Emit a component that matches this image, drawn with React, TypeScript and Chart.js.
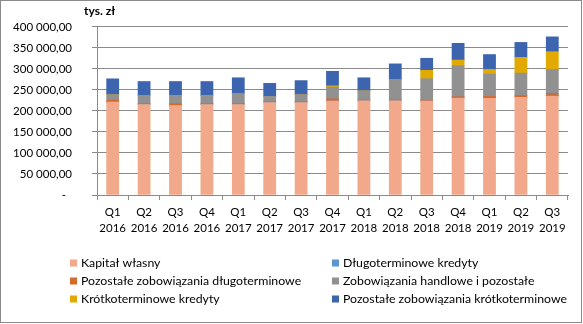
import React, { useEffect, useRef } from "react";
import { Chart, registerables } from "chart.js";

Chart.register(...registerables);

const categories: string[][] = [
  ["Q1", "2016"], ["Q2", "2016"], ["Q3", "2016"], ["Q4", "2016"],
  ["Q1", "2017"], ["Q2", "2017"], ["Q3", "2017"], ["Q4", "2017"],
  ["Q1", "2018"], ["Q2", "2018"], ["Q3", "2018"], ["Q4", "2018"],
  ["Q1", "2019"], ["Q2", "2019"], ["Q3", "2019"],
];

// values in tys. zł
const kapitalWlasny = [221300, 215200, 212500, 215000, 215000, 219800, 219800, 223500, 224200, 224200, 223500, 230200, 230200, 232400, 234600];
const dlugoterminoweKredyty = [0, 0, 0, 0, 0, 0, 0, 0, 0, 0, 0, 2500, 0, 0, 2900];
const pozostaleDlugoterminowe = [4400, 2400, 5100, 2600, 2600, 2200, 2200, 5200, 2200, 2200, 2300, 1300, 4400, 4400, 4400];
const zobowiazaniaHandlowe = [13000, 19200, 19200, 19200, 23700, 12600, 17000, 28100, 21500, 48100, 50900, 73700, 53100, 53200, 56900];
const krotkoterminoweKredyty = [0, 0, 0, 0, 0, 0, 0, 2900, 0, 0, 19900, 13300, 11100, 37600, 42100];
const pozostaleKrotkoterminowe = [37700, 33200, 33200, 33200, 37600, 31000, 33200, 34700, 31000, 37500, 28800, 39800, 35400, 35400, 35400];

const seriesNames = [
  "Kapitał własny",
  "Długoterminowe kredyty",
  "Pozostałe zobowiązania długoterminowe",
  "Zobowiązania handlowe i pozostałe",
  "Krótkoterminowe kredyty",
  "Pozostałe zobowiązania krótkoterminowe",
];
const seriesColors = ["#F2A88A", "#5B96D0", "#D7692B", "#919191", "#E2AA00", "#3D64AF"];

const yTicks = [0, 50000, 100000, 150000, 200000, 250000, 300000, 350000, 400000];

const FONT = "Lato, 'DejaVu Sans', sans-serif";
const FS = 11.5;
const LEGEND_FS = 12.3;

function fmt(v: number): string {
  if (v === 0) return "-  ";
  const s = Math.round(v).toString().replace(/\B(?=(\d{3})+(?!\d))/g, " ");
  return s + ",00";
}

const decorPlugin = {
  id: "decor",
  afterDraw(chart: any) {
    const ctx = chart.ctx as CanvasRenderingContext2D;
    ctx.save();
    // unit label
    ctx.fillStyle = "#000";
    ctx.font = `bold 12px ${FONT}`;
    ctx.textBaseline = "middle";
    ctx.textAlign = "left";
    ctx.fillText("tys. zł", 84, 11);
    // legend, 2 columns x 3 rows
    ctx.font = `${LEGEND_FS}px ${FONT}`;
    const cols = [70, 332];
    const rows = [263, 281, 299];
    chart.data.datasets.forEach((ds: any, i: number) => {
      const cx = cols[i % 2];
      const cy = rows[Math.floor(i / 2)];
      ctx.fillStyle = ds.backgroundColor;
      ctx.fillRect(cx, cy - 3.5, 7, 7);
      ctx.fillStyle = "#000";
      ctx.fillText(ds.label, cx + 11, cy);
    });
    // outer border
    ctx.strokeStyle = "#8a8a8a";
    ctx.lineWidth = 1;
    ctx.strokeRect(0.5, 0.5, 581, 322);
    ctx.restore();
  },
};

export default function App() {
  const ref = useRef<HTMLCanvasElement | null>(null);

  useEffect(() => {
    document.body.style.margin = "0";
    const canvas = ref.current;
    if (!canvas) return;
    const series = [
      kapitalWlasny,
      dlugoterminoweKredyty,
      pozostaleDlugoterminowe,
      zobowiazaniaHandlowe,
      krotkoterminoweKredyty,
      pozostaleKrotkoterminowe,
    ];
    const chart = new Chart(canvas, {
      type: "bar",
      data: {
        labels: categories,
        datasets: series.map((d, i) => ({
          label: seriesNames[i],
          data: d,
          backgroundColor: seriesColors[i],
          borderWidth: 0,
          inflateAmount: 0.35,
          barPercentage: 0.385,
          categoryPercentage: 1,
        })),
      },
      options: {
        responsive: false,
        animation: false,
        devicePixelRatio: 1,
        layout: { padding: { top: 14, right: 15, bottom: 70, left: 0 } },
        plugins: {
          legend: { display: false },
          tooltip: { enabled: false },
          title: { display: false },
        },
        scales: {
          x: {
            stacked: true,
            offset: true,
            grid: {
              offset: true,
              drawOnChartArea: false,
              drawTicks: true,
              tickLength: 5,
              color: "#8a8a8a",
            },
            border: { display: true, color: "#8a8a8a" },
            ticks: {
              color: "#000",
              font: { family: FONT, size: FS, lineHeight: 1.35 },
              padding: 5,
              maxRotation: 0,
              autoSkip: false,
            },
            afterFit: (s: any) => {
              s.height = 324 - 195 - 70;
            },
          },
          y: {
            stacked: true,
            min: 0,
            max: 400000,
            afterBuildTicks: (s: any) => {
              s.ticks = yTicks.map((v) => ({ value: v }));
            },
            grid: {
              color: "#8a8a8a",
              drawTicks: true,
              tickLength: 5,
            },
            border: { display: true, color: "#8a8a8a" },
            ticks: {
              color: "#000",
              font: { family: FONT, size: FS },
              padding: 20,
              callback: (v: any) => fmt(Number(v)),
            },
            afterFit: (s: any) => {
              s.width = 97;
            },
          },
        },
      },
      plugins: [decorPlugin],
    });
    return () => chart.destroy();
  }, []);

  return (
    <div style={{ width: 583, height: 324 }}>
      <canvas ref={ref} width={583} height={324} style={{ display: "block", width: 583, height: 324 }} />
    </div>
  );
}
